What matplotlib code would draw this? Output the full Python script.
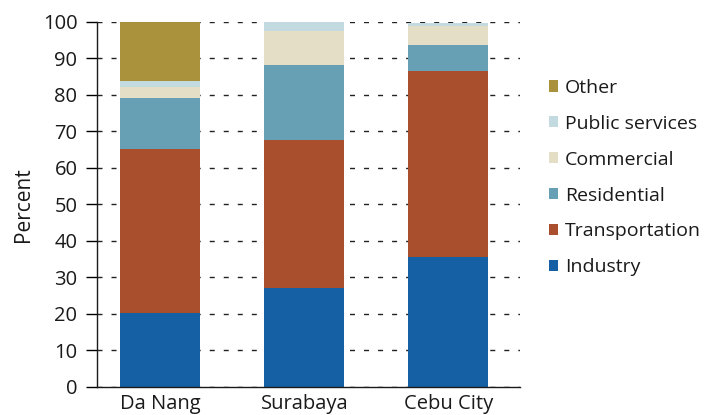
import matplotlib
matplotlib.use("Agg")
import matplotlib.pyplot as plt
import matplotlib.transforms as mtransforms
import numpy as np

plt.rcParams['font.family'] = ['Open Sans', 'DejaVu Sans']

cities = ["Da Nang", "Surabaya", "Cebu City"]
sectors = ["Industry", "Transportation", "Residential", "Commercial", "Public services", "Other"]
industry = [20.3, 27.2, 35.5]
transportation = [44.9, 40.5, 51.1]
residential = [14.0, 20.5, 7.1]
commercial = [3.0, 9.3, 5.2]
public_services = [1.6, 2.5, 0.8]
other = [16.2, 0.0, 0.0]
colors = ["#1560A5", "#A94F2D", "#67A0B4", "#E5DEC6", "#C3DAE1", "#AA913C"]

series = [industry, transportation, residential, commercial, public_services, other]

fig = plt.figure(figsize=(7.12, 4.15), dpi=100)
ax = fig.add_axes([0.136, 0.0675, 0.594, 0.8795])

x = np.arange(len(cities))
bottom = np.zeros(len(cities))
handles = []
for name, vals, c in zip(sectors, series, colors):
    h = ax.bar(x, vals, bottom=bottom, width=0.555, color=c, label=name, zorder=2)
    handles.append(h)
    bottom += np.array(vals)

ax.set_xlim(-0.44, 2.495)
ax.set_ylim(0, 100)
ax.set_yticks(np.arange(0, 101, 10))
ax.set_xticks(x)
ax.set_xticklabels(cities, fontsize=14.5, color="#1a1a1a")
offset = mtransforms.ScaledTranslation(5 / 100, 0, fig.dpi_scale_trans)
for lbl in ax.get_xticklabels():
    lbl.set_transform(lbl.get_transform() + offset)
ax.tick_params(axis='x', length=0, pad=5)
ax.tick_params(axis='y', direction='out', length=8, width=1, labelsize=14.5,
               labelcolor="#1a1a1a", pad=6)
ax.yaxis.grid(True, linestyle=(0, (3.6, 6.5)), color="#222222", linewidth=1.0, zorder=0)
ax.set_axisbelow(True)
for s in ["top", "right"]:
    ax.spines[s].set_visible(False)
for s in ["left", "bottom"]:
    ax.spines[s].set_linewidth(1.0)
    ax.spines[s].set_color("#1a1a1a")
ax.set_ylabel("Percent", fontsize=15, color="#1a1a1a", labelpad=6)

leg = fig.legend(handles[::-1], sectors[::-1], loc="center left",
                 bbox_to_anchor=(0.746, 0.572), frameon=False, fontsize=14,
                 handlelength=0.5, handleheight=0.5, handletextpad=0.35,
                 labelspacing=0.92)
for t in leg.get_texts():
    t.set_color("#1a1a1a")

fig.savefig("out.png", dpi=100)
